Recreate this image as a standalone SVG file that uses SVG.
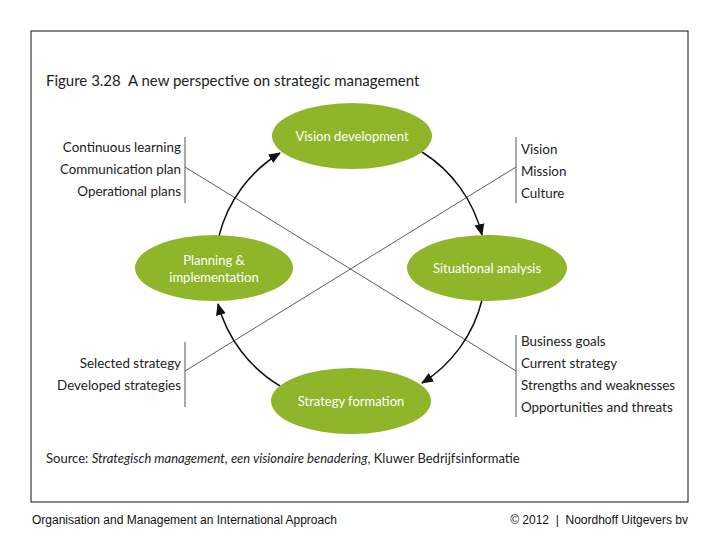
<svg xmlns="http://www.w3.org/2000/svg" width="720" height="540" viewBox="0 0 720 540">
<defs>
<marker id="ah" markerUnits="userSpaceOnUse" markerWidth="12" markerHeight="12" viewBox="0 0 12 12" refX="11" refY="6" orient="auto">
<path d="M0,1 L12,6 L0,11 Z" fill="#111"/>
</marker>
<style>
.t{font-family:Lato,"Open Sans","Noto Sans",sans-serif;font-size:13.4px;fill:#222;white-space:pre}
.n{font-family:Lato,"Open Sans","Noto Sans",sans-serif;font-size:13px;fill:#fff;text-anchor:middle}
.r{text-anchor:end}
.bar{stroke:#555;stroke-width:1}
.diag{stroke:#333;stroke-width:0.8;fill:none}
.arc{stroke:#111;stroke-width:1.5;fill:none;marker-end:url(#ah)}
.ell{fill:#8fb52a}
.f{font-family:"Liberation Sans",Arial,sans-serif;font-size:12px;fill:#111;white-space:pre}
</style>
</defs>
<rect width="720" height="540" fill="#fff"/>
<rect x="31" y="31" width="657" height="471" fill="none" stroke="#111" stroke-width="1"/>
<text class="t" x="46" y="86" style="font-size:15px">Figure 3.28  A new perspective on strategic management</text>

<g id="connectors">
<line class="diag" x1="185" y1="167" x2="516" y2="371"/>
<line class="diag" x1="516" y1="167" x2="185" y2="371"/>
<path class="arc" d="M422,152 A136,136 0 0 1 482,235"/>
<path class="arc" d="M482,300 A136,136 0 0 1 422,383"/>
<path class="arc" d="M280,386 A137,137 0 0 1 218,304"/>
<path class="arc" d="M219,236 A136,136 0 0 1 280,153"/>
</g>

<g id="vision-development">
<ellipse class="ell" cx="352" cy="136" rx="80" ry="33"/>
<text class="n" x="352" y="141">Vision development</text>
</g>
<g id="situational-analysis">
<ellipse class="ell" cx="487" cy="268" rx="80" ry="33"/>
<text class="n" x="487" y="273">Situational analysis</text>
</g>
<g id="strategy-formation">
<ellipse class="ell" cx="351" cy="401" rx="80" ry="33"/>
<text class="n" x="351" y="406">Strategy formation</text>
</g>
<g id="planning-implementation">
<ellipse class="ell" cx="214" cy="268" rx="79" ry="33"/>
<text class="n" x="214" y="265">Planning &amp;</text>
<text class="n" x="214" y="282">implementation</text>
</g>

<g id="labels-top-left">
<line class="bar" x1="185" y1="137" x2="185" y2="203"/>
<text class="t r" x="181" y="152">Continuous learning</text>
<text class="t r" x="181" y="174">Communication plan</text>
<text class="t r" x="181" y="196">Operational plans</text>
</g>
<g id="labels-top-right">
<line class="bar" x1="516" y1="137" x2="516" y2="203"/>
<text class="t" x="521" y="154">Vision</text>
<text class="t" x="521" y="176">Mission</text>
<text class="t" x="521" y="198">Culture</text>
</g>
<g id="labels-bottom-left">
<line class="bar" x1="185" y1="342" x2="185" y2="407"/>
<text class="t r" x="181" y="368">Selected strategy</text>
<text class="t r" x="181" y="390">Developed strategies</text>
</g>
<g id="labels-bottom-right">
<line class="bar" x1="516" y1="335" x2="516" y2="417"/>
<text class="t" x="521" y="346">Business goals</text>
<text class="t" x="521" y="368">Current strategy</text>
<text class="t" x="521" y="390">Strengths and weaknesses</text>
<text class="t" x="521" y="412">Opportunities and threats</text>
</g>

<text class="t" x="46" y="463" style="font-size:13px">Source: <tspan font-style="italic">Strategisch management, een visionaire benadering</tspan>, Kluwer Bedrijfsinformatie</text>

<text class="f" x="32" y="524">Organisation and Management an International Approach</text>
<text class="f" x="688" y="524" text-anchor="end">© 2012  |  Noordhoff Uitgevers bv</text>
</svg>
